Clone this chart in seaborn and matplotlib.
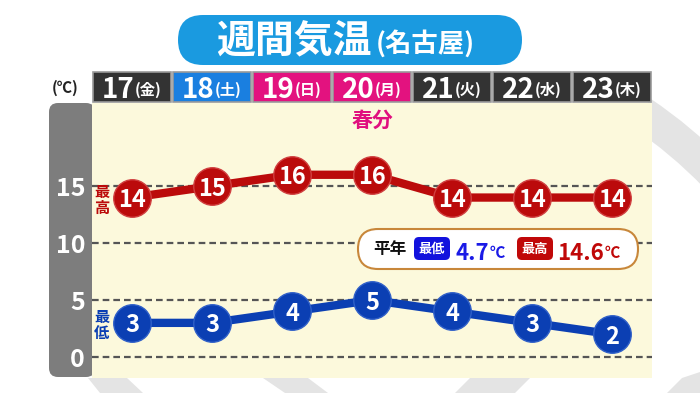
import matplotlib
matplotlib.use('Agg')
import matplotlib.pyplot as plt
import seaborn as sns
import pandas as pd
from matplotlib.patches import FancyBboxPatch, Rectangle, Polygon, Wedge

# ---- data ----
days = ['17', '18', '19', '20', '21', '22', '23']
weekdays = ['金', '土', '日', '月', '火', '水', '木']
day_colors = ['#333333', '#1a7fe0', '#e3127f', '#e3127f', '#333333', '#333333', '#333333']
temp_max = [14, 15, 16, 16, 14, 14, 14]
temp_min = [3, 3, 4, 5, 4, 3, 2]
yticks = [0, 5, 10, 15]
title_main = '週間気温'
title_sub = '(名古屋)'
event_label = '春分'
event_day = '20'
normal_label = '平年'
normal_min = 4.7
normal_max = 14.6

RED = '#bb0b0b'
BLUE = '#0b3fb3'
CREAM = '#fcf9dc'
DECO = '#e4e4e4'

sns.set_theme(style='white')
plt.rcParams['font.family'] = ['Noto Sans CJK JP', 'DejaVu Sans']

W, H = 700, 393
fig = plt.figure(figsize=(7, 3.93), dpi=100)
fig.patch.set_facecolor('white')

# background axes in pixel coordinates
bg = fig.add_axes([0, 0, 1, 1], zorder=0)
bg.set_xlim(0, W); bg.set_ylim(H, 0); bg.axis('off')
bg.add_patch(Wedge((380, 500), 484, -56, -8, width=34, fc=DECO, ec='none'))
for poly in ([(88, 378), (127, 378), (143, 393), (100, 393)],
             [(263, 378), (308, 378), (328, 393), (285, 393)],
             [(470, 378), (530, 378), (515, 393), (455, 393)],
             [(682, 378), (700, 372), (700, 393), (667, 393)]):
    bg.add_patch(Polygon(poly, closed=True, fc=DECO, ec='none'))
bg.add_patch(FancyBboxPatch((49, 103), 46, 274, boxstyle='round,pad=0,rounding_size=9',
                            fc='#7d7d7d', ec='none'))

# main plot axes
ax = fig.add_axes([92 / W, 1 - 378 / H, 560 / W, 275 / H], zorder=1)
ax.set_facecolor(CREAM)
df = pd.DataFrame({'idx': range(len(days)), 'max': temp_max, 'min': temp_min})

for v in yticks:
    ax.axhline(v, color='#555555', lw=1.6, ls=(0, (3, 1.8)), zorder=1)

sns.lineplot(data=df, x='idx', y='max', ax=ax, color=RED, lw=6, marker='o', markersize=27,
             markeredgecolor='#d04040', markeredgewidth=1.0, zorder=3)
sns.lineplot(data=df, x='idx', y='min', ax=ax, color=BLUE, lw=6, marker='o', markersize=27,
             markeredgecolor='#3060c8', markeredgewidth=1.0, zorder=3)

for i, (hi, lo) in enumerate(zip(temp_max, temp_min)):
    ax.text(i, hi, str(hi), color='white', ha='center', va='center_baseline', fontsize=17,
            fontweight='bold', zorder=4)
    ax.text(i, lo, str(lo), color='white', ha='center', va='center_baseline', fontsize=17,
            fontweight='bold', zorder=4)

ax.set_xlim(-0.5, len(days) - 0.5)
ax.set_ylim(-1.84, 22.3)
ax.set_xlabel(''); ax.set_ylabel('')
ax.set_xticks([])
ax.set_yticks(yticks)
ax.set_yticklabels([str(t) for t in yticks], fontweight='bold')
ax.tick_params(axis='y', length=0, pad=5, labelcolor='white', labelsize=18)
for s in ax.spines.values():
    s.set_visible(False)

# series labels
ax.text(-0.375, temp_max[0] - 0.2, '最\n高', color=RED, ha='center', va='center', fontsize=11,
        fontweight='bold', linespacing=1.05, zorder=4)
ax.text(-0.375, temp_min[0] - 0.2, '最\n低', color=BLUE, ha='center', va='center', fontsize=11,
        fontweight='bold', linespacing=1.05, zorder=4)

# event label
ax.text(days.index(event_day), 20.8, event_label, color='#e0107f', ha='center', va='center',
        fontsize=15, fontweight='bold')

# header boxes
xt = ax.get_xaxis_transform()
for i, (d, wd, c) in enumerate(zip(days, weekdays, day_colors)):
    ax.add_patch(Rectangle((i - 0.4875, 1.004), 0.975, 0.108, transform=xt, clip_on=False,
                           fc=c, ec='#9a9a9a', lw=1.2, zorder=5))
    ax.text(i + 0.03, 1.058, d, transform=xt, ha='right', va='center_baseline', color='white',
            fontsize=20, fontweight='bold', clip_on=False, zorder=6)
    ax.text(i + 0.04, 1.052, f'({wd})', transform=xt, ha='left', va='center_baseline', color='white',
            fontsize=11, fontweight='bold', clip_on=False, zorder=6)

# overlay in pixel coordinates
ov = fig.add_axes([0, 0, 1, 1], zorder=5)
ov.set_xlim(0, W); ov.set_ylim(H, 0); ov.axis('off')
ov.patch.set_alpha(0)

ov.text(65, 88, '(℃)', ha='center', va='center', fontsize=11, fontweight='bold', color='#222222')

# title pill
ov.add_patch(FancyBboxPatch((178, 15), 344, 50, boxstyle='round,pad=0,rounding_size=25',
                            fc='#1a9ae0', ec='none'))
ov.text(372, 42, title_main, ha='right', va='center', fontsize=28, fontweight='bold', color='white')
ov.text(376, 44, title_sub, ha='left', va='center', fontsize=19, fontweight='bold', color='white')

# normals legend box
ov.add_patch(FancyBboxPatch((358, 229), 280, 40, boxstyle='round,pad=0,rounding_size=20',
                            fc='white', ec='#c8873a', lw=1.5, zorder=6))
ov.text(390, 249, normal_label, ha='center', va='center', fontsize=12, fontweight='bold',
        color='#111111', zorder=7)
ov.add_patch(FancyBboxPatch((414, 237), 36, 23, boxstyle='round,pad=0,rounding_size=5',
                            fc='#1212dd', ec='none', zorder=7))
ov.text(432, 248.5, '最低', ha='center', va='center', fontsize=9.5, fontweight='bold', color='white', zorder=8)
ov.text(456, 251, f'{normal_min}', ha='left', va='center_baseline', fontsize=16, fontweight='bold',
        color='#1a1ae6', zorder=8)
ov.text(490, 252, '℃', ha='left', va='center_baseline', fontsize=11, fontweight='bold',
        color='#1a1ae6', zorder=8)
ov.add_patch(FancyBboxPatch((517, 237), 36, 23, boxstyle='round,pad=0,rounding_size=5',
                            fc='#c00808', ec='none', zorder=7))
ov.text(535, 248.5, '最高', ha='center', va='center', fontsize=9.5, fontweight='bold', color='white', zorder=8)
ov.text(557, 251, f'{normal_max}', ha='left', va='center_baseline', fontsize=16, fontweight='bold',
        color='#c00808', zorder=8)
ov.text(605, 252, '℃', ha='left', va='center_baseline', fontsize=11, fontweight='bold',
        color='#c00808', zorder=8)

fig.savefig('out.png', dpi=100)
